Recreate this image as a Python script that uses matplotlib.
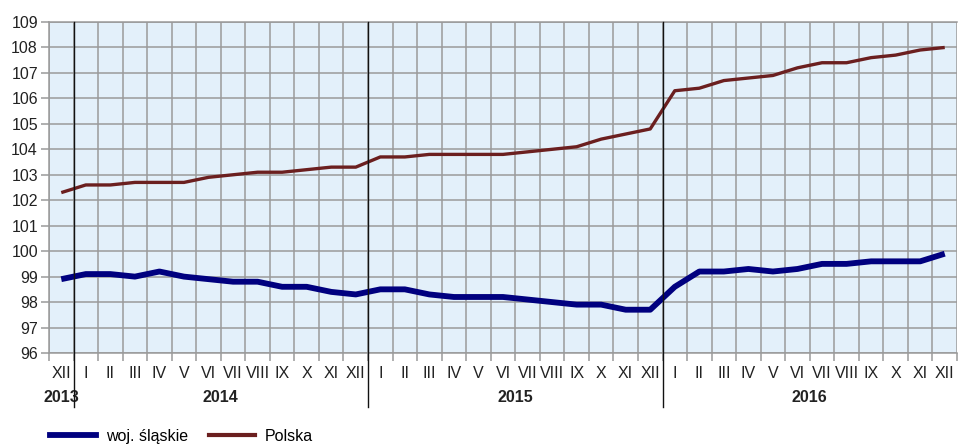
import numpy as np
import matplotlib.pyplot as plt
from matplotlib.lines import Line2D

plt.rcParams["font.family"] = ["Liberation Sans", "DejaVu Sans"]
fs = 11.5

months = ["XII"] + ["I", "II", "III", "IV", "V", "VI", "VII", "VIII", "IX", "X", "XI", "XII"] * 3
years = ["2013", "2014", "2015", "2016"]

polska = [102.3,
          102.6, 102.6, 102.7, 102.7, 102.7, 102.9, 103.0, 103.1, 103.1, 103.2, 103.3, 103.3,
          103.7, 103.7, 103.8, 103.8, 103.8, 103.8, 103.9, 104.0, 104.1, 104.4, 104.6, 104.8,
          106.3, 106.4, 106.7, 106.8, 106.9, 107.2, 107.4, 107.4, 107.6, 107.7, 107.9, 108.0]
slaskie = [98.9,
           99.1, 99.1, 99.0, 99.2, 99.0, 98.9, 98.8, 98.8, 98.6, 98.6, 98.4, 98.3,
           98.5, 98.5, 98.3, 98.2, 98.2, 98.2, 98.1, 98.0, 97.9, 97.9, 97.7, 97.7,
           98.6, 99.2, 99.2, 99.3, 99.2, 99.3, 99.5, 99.5, 99.6, 99.6, 99.6, 99.9]

grid_col = "#9a9a9a"
x = np.arange(len(months))

fig = plt.figure(figsize=(9.58, 4.45), dpi=100)
ax = fig.add_axes([49 / 958, 1 - 353 / 445, 908 / 958, 331 / 445])
ax.set_facecolor("#e3f0fa")

ax.plot(x, slaskie, color="#00007f", lw=4.2, solid_capstyle="butt", zorder=3)
ax.plot(x, polska, color="#6b1f1f", lw=2.4, solid_capstyle="butt", zorder=3)

ax.set_xlim(-0.5, len(months) - 0.5)
ax.set_ylim(96, 109)
ax.set_yticks(range(96, 110))
ax.set_xticks(x)
ax.set_xticklabels(months)
ax.set_xticks(np.arange(-0.5, len(months)), minor=True)

ax.grid(True, which="minor", axis="x", color=grid_col, lw=1.1)
ax.grid(True, which="major", axis="y", color=grid_col, lw=1.1)
ax.set_axisbelow(True)
ax.tick_params(axis="x", which="major", length=0, pad=9, labelsize=fs, labelcolor="#222222")
ax.tick_params(axis="x", which="minor", length=6, color=grid_col, width=1.1)
ax.tick_params(axis="y", length=6, color=grid_col, width=1.1, labelsize=fs, pad=2, labelcolor="#222222")
for s in ax.spines.values():
    s.set_color(grid_col)
    s.set_linewidth(1.1)
ax.spines["right"].set_visible(False)

# year separators and year labels
trans = ax.get_xaxis_transform()
for b in [0.5, 12.5, 24.5]:
    ax.plot([b, b], [1, -0.163], color="#111111", lw=1, transform=trans, clip_on=False, zorder=4)
year_pos = [0, 6.5, 18.5, 30.5]
for yp, yr in zip(year_pos, years):
    ax.text(yp, -0.135, yr, transform=trans, ha="center", va="center",
            fontsize=fs, fontweight="bold", color="#222222")

# legend
handles = [Line2D([], [], color="#00007f", lw=4.2), Line2D([], [], color="#6b1f1f", lw=3)]
fig.legend(handles, ["woj. śląskie", "Polska"], loc="lower left", bbox_to_anchor=(0.037, -0.03),
           ncol=2, frameon=False, fontsize=fs, handlelength=2.9, columnspacing=1.3,
           handletextpad=0.6)

fig.savefig("out.png", dpi=100)
